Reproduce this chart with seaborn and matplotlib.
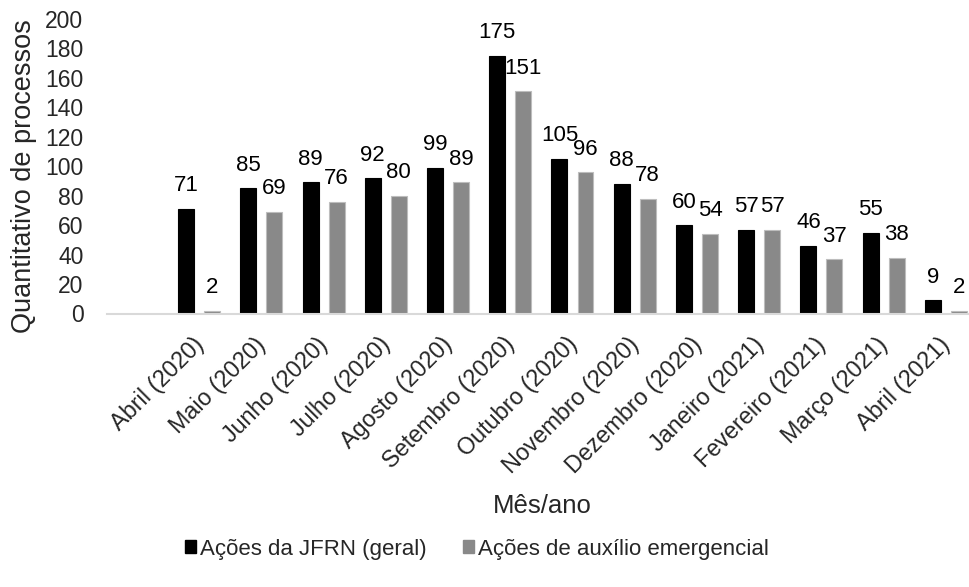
import matplotlib
matplotlib.use("Agg")
import matplotlib.pyplot as plt
import matplotlib.transforms as mtransforms
from matplotlib.patches import Patch
import pandas as pd
import seaborn as sns

# Monthly counts of lawsuits
meses = ["Abril (2020)", "Maio (2020)", "Junho (2020)", "Julho (2020)",
         "Agosto (2020)", "Setembro (2020)", "Outubro (2020)", "Novembro (2020)",
         "Dezembro (2020)", "Janeiro (2021)", "Fevereiro (2021)", "Março (2021)",
         "Abril (2021)"]
acoes_geral = [71, 85, 89, 92, 99, 175, 105, 88, 60, 57, 46, 55, 9]
acoes_auxilio = [2, 69, 76, 80, 89, 151, 96, 78, 54, 57, 37, 38, 2]
series = ["Ações da JFRN (geral)", "Ações de auxílio emergencial"]
yticks = [0, 20, 40, 60, 80, 100, 120, 140, 160, 180, 200]

df = pd.DataFrame({
    "Mês/ano": meses * 2,
    "Quantitativo de processos": acoes_geral + acoes_auxilio,
    "Série": [series[0]] * len(meses) + [series[1]] * len(meses),
})

sns.set_theme(style="white")
plt.rcParams["font.family"] = ["Liberation Sans", "DejaVu Sans"]

W, H = 969, 587
fig = plt.figure(figsize=(W / 100, H / 100), dpi=100)
ax_left, ax_right, ax_bottom, ax_top = 107, 977, 313.5, 19
ax = fig.add_axes([ax_left / W, 1 - ax_bottom / H,
                   (ax_right - ax_left) / W, (ax_bottom - ax_top) / H])

cores = {series[0]: "#000000", series[1]: "#898989"}
sns.barplot(data=df, x="Mês/ano", y="Quantitativo de processos", hue="Série",
            order=meses, hue_order=series, palette=cores, width=0.836, gap=0.385,
            errorbar=None, legend=False, ax=ax, saturation=1)

for cont, cor_borda in zip(ax.containers, ["#000000", "#bdbdbd"]):
    for barra in cont:
        barra.set_edgecolor(cor_borda)
        barra.set_linewidth(0.8)
    ax.bar_label(cont, padding=9, fontsize=16, color="#000000")

ax.set_xlim(-1.48, 12.5)
ax.set_ylim(0, 200)
ax.set_yticks(yticks)
ax.set_yticklabels([str(v) for v in yticks], fontsize=16.5)

for s in ["top", "right", "left"]:
    ax.spines[s].set_visible(False)
ax.spines["bottom"].set_color("#d9d9d9")
ax.spines["bottom"].set_linewidth(1.5)
ax.tick_params(axis="both", length=0)
ax.tick_params(axis="y", pad=17)
ax.tick_params(axis="x", pad=14)

# rotated month labels, nudged left so they end right at their bar group
shift = mtransforms.ScaledTranslation(-7 / 100, 0, fig.dpi_scale_trans)
for lbl in ax.get_xticklabels():
    lbl.set_rotation(45)
    lbl.set_ha("right")
    lbl.set_va("top")
    lbl.set_rotation_mode("anchor")
    lbl.set_fontsize(16.8)
    lbl.set_transform(lbl.get_transform() + shift)

ax.set_xlabel("Mês/ano", fontsize=18.5)
ax.xaxis.set_label_coords(0.5, (ax_bottom - 506) / (ax_bottom - ax_top))
ax.xaxis.label.set_va("center")
ax.set_ylabel("Quantitativo de processos", fontsize=19.5)
ax.yaxis.set_label_coords((24 - ax_left) / (ax_right - ax_left),
                          (ax_bottom - 176) / (ax_bottom - ax_top))
ax.yaxis.label.set_va("center")

handles = [Patch(facecolor=cores[s], edgecolor=cores[s], label=s) for s in series]
fig.legend(handles=handles, loc="center", bbox_to_anchor=(477 / W, 1 - 549 / H),
           ncol=2, frameon=False, fontsize=16, handlelength=0.5, handleheight=0.5,
           handletextpad=0.2, columnspacing=1.6)

fig.savefig("out.png", dpi=100)
